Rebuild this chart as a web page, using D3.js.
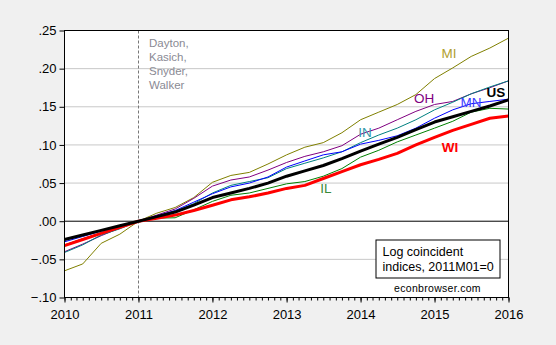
<!DOCTYPE html>
<html>
<head>
<meta charset="utf-8">
<script src="https://cdn.jsdelivr.net/npm/d3@7"></script>
<style>
  body { margin: 0; background: #f0f0f0; }
  svg text { font-family: "Liberation Sans", Arial, sans-serif; }
</style>
</head>
<body>
<div id="content"></div>
<script>
var dates = ['2010-01', '2010-04', '2010-07', '2010-10',
             '2011-01', '2011-04', '2011-07', '2011-10',
             '2012-01', '2012-04', '2012-07', '2012-10',
             '2013-01', '2013-04', '2013-07', '2013-10',
             '2014-01', '2014-04', '2014-07', '2014-10',
             '2015-01', '2015-04', '2015-07', '2015-10',
             '2016-01'];

var MI = [-0.065, -0.056, -0.029, -0.017, 0, 0.0105, 0.018, 0.031, 0.051, 0.060, 0.064, 0.075,
          0.087, 0.097, 0.103, 0.116, 0.133, 0.143, 0.153, 0.166, 0.187, 0.201, 0.216, 0.227, 0.240];
var OH = [-0.040, -0.030, -0.019, -0.009, 0, 0.008, 0.016, 0.030, 0.046, 0.054, 0.058, 0.067,
          0.077, 0.085, 0.091, 0.099, 0.114, 0.122, 0.133, 0.144, 0.153, 0.157, 0.167, 0.175, 0.184];
var IN = [-0.041, -0.031, -0.018, -0.010, 0, 0.006, 0.013, 0.023, 0.037, 0.047, 0.052, 0.057,
          0.069, 0.076, 0.083, 0.091, 0.103, 0.113, 0.122, 0.133, 0.146, 0.156, 0.167, 0.176, 0.184];
var MN = [-0.027, -0.020, -0.013, -0.007, 0, 0.007, 0.014, 0.025, 0.036, 0.045, 0.050, 0.058,
          0.071, 0.079, 0.087, 0.091, 0.101, 0.106, 0.112, 0.122, 0.135, 0.146, 0.154, 0.157, 0.160];
var IL = [-0.031, -0.023, -0.015, -0.008, 0, 0.004, 0.0045, 0.015, 0.026, 0.034, 0.037, 0.043,
          0.049, 0.052, 0.059, 0.069, 0.084, 0.093, 0.104, 0.113, 0.122, 0.131, 0.143, 0.148, 0.147];
var WI = [-0.032, -0.024, -0.016, -0.008, 0, 0.004, 0.008, 0.014, 0.021, 0.028, 0.032, 0.037,
          0.043, 0.047, 0.056, 0.065, 0.074, 0.081, 0.089, 0.100, 0.110, 0.119, 0.127, 0.135, 0.138];
var US = [-0.024, -0.018, -0.012, -0.006, 0, 0.006, 0.012, 0.021, 0.031, 0.037, 0.043, 0.050,
          0.059, 0.066, 0.073, 0.082, 0.092, 0.101, 0.110, 0.120, 0.130, 0.137, 0.144, 0.151, 0.159];

var yTicks = [-0.10, -0.05, 0, 0.05, 0.10, 0.15, 0.20, 0.25];
var yearTicks = ['2010', '2011', '2012', '2013', '2014', '2015', '2016'];
var governors = ['Dayton,', 'Kasich,', 'Snyder,', 'Walker'];
var noteLines = ['Log coincident', 'indices, 2011M01=0'];

var margin = { top: 30.5, right: 47.5, bottom: 47.5, left: 64.5 };
var width = 556 - margin.left - margin.right,
    height = 345 - margin.top - margin.bottom;

var parseMonth = d3.timeParse('%Y-%m'),
    parseYear = d3.timeParse('%Y');

var xScale = d3.scaleTime()
    .domain([parseYear('2010'), parseYear('2016')])
    .range([0, width]);

var yScale = d3.scaleLinear()
    .domain([-0.10, 0.25])
    .range([height, 0]);

// series drawn thin first, thick ones on top
var series = [
  { name: 'MI', values: MI, color: '#808000', width: 1, label: '#b0a030', lx: 449, ly: 58, bold: false },
  { name: 'OH', values: OH, color: '#800080', width: 1, label: '#800080', lx: 424, ly: 103, bold: false },
  { name: 'IN', values: IN, color: '#008080', width: 1, label: '#3399aa', lx: 365, ly: 137, bold: false },
  { name: 'MN', values: MN, color: '#0000ff', width: 1, label: '#3a3aff', lx: 471, ly: 107, bold: false },
  { name: 'IL', values: IL, color: '#008000', width: 1, label: '#3a8a3a', lx: 326, ly: 193, bold: false },
  { name: 'WI', values: WI, color: '#ff0000', width: 3, label: '#ff0000', lx: 450, ly: 152, bold: true },
  { name: 'US', values: US, color: '#000000', width: 3, label: '#000000', lx: 496, ly: 97, bold: true }
];

var fmtY = function(d){
    var s = d3.format('.2f')(d);
    return s.replace('0.', '.');
};

var svg = d3.select('#content').append('svg')
    .attr('width', 556)
    .attr('height', 345)
    .style('display', 'block')
    .style('background', '#f0f0f0');

var chart = svg.append('g')
    .attr('transform', 'translate(' + margin.left + ',' + margin.top + ')');

chart.append('rect')
    .attr('width', width)
    .attr('height', height)
    .style('fill', '#fff');

// gridlines
chart.selectAll('.grid').data(yTicks.filter(function(d){ return d !== 0; }))
    .enter().append('line')
    .attr('x1', 0).attr('x2', width)
    .attr('y1', function(d){ return yScale(d); })
    .attr('y2', function(d){ return yScale(d); })
    .style('stroke', '#c8c8c8');

chart.append('line')
    .attr('x1', 0).attr('x2', width)
    .attr('y1', yScale(0)).attr('y2', yScale(0))
    .style('stroke', '#000');

chart.append('line')
    .attr('x1', Math.round(xScale(parseYear('2011'))))
    .attr('x2', Math.round(xScale(parseYear('2011'))))
    .attr('y1', 0).attr('y2', height)
    .style('stroke', '#777')
    .style('stroke-dasharray', '3,2');

chart.selectAll('.gov').data(governors)
    .enter().append('text')
    .attr('x', 84.5)
    .attr('y', function(d, i){ return 16 + i * 14; })
    .style('font-size', '11.5px')
    .style('fill', '#8a8a94')
    .text(function(d){ return d; });

var line = d3.line()
    .x(function(d, i){ return xScale(parseMonth(dates[i])); })
    .y(function(d){ return yScale(d); });

chart.selectAll('.series').data(series)
    .enter().append('path')
    .attr('d', function(d){ return line(d.values); })
    .style('fill', 'none')
    .style('stroke', function(d){ return d.color; })
    .style('stroke-width', function(d){ return d.width; })
    .style('stroke-linejoin', 'round');

chart.selectAll('.lab').data(series)
    .enter().append('text')
    .attr('x', function(d){ return d.lx - margin.left; })
    .attr('y', function(d){ return d.ly - margin.top; })
    .attr('text-anchor', 'middle')
    .style('font-size', '13.5px')
    .style('font-weight', function(d){ return d.bold ? 'bold' : 'normal'; })
    .style('fill', function(d){ return d.label; })
    .text(function(d){ return d.name; });

// note box
var note = chart.append('g')
    .attr('transform', 'translate(' + (376 - margin.left) + ',' + (240 - margin.top) + ')');
note.append('rect')
    .attr('width', 124)
    .attr('height', 38)
    .style('fill', '#fff')
    .style('stroke', '#000');
note.selectAll('text').data(noteLines)
    .enter().append('text')
    .attr('x', 6.5)
    .attr('y', function(d, i){ return 16 + i * 14.5; })
    .style('font-size', '12.5px')
    .text(function(d){ return d; });

chart.append('text')
    .attr('x', 437.5 - margin.left)
    .attr('y', 292 - margin.top)
    .attr('text-anchor', 'middle')
    .style('font-size', '10.5px')
    .style('letter-spacing', '0.3px')
    .text('econbrowser.com');

// frame
chart.append('rect')
    .attr('width', width)
    .attr('height', height)
    .style('fill', 'none')
    .style('stroke', '#000');

// axes
var yAxis = d3.axisLeft(yScale)
    .tickValues(yTicks)
    .tickSize(5)
    .tickPadding(3)
    .tickFormat(fmtY);
var yGuide = chart.append('g');
yAxis(yGuide);
yGuide.select('.domain').remove();
yGuide.selectAll('line').style('stroke', '#000');
yGuide.selectAll('text')
    .style('font-size', '13px')
    .style('font-family', '"Liberation Sans", Arial, sans-serif')
    .style('fill', '#000');

var mAxis = d3.axisBottom(xScale)
    .ticks(d3.timeMonth.every(1))
    .tickSize(3)
    .tickFormat('');
var mGuide = chart.append('g')
    .attr('transform', 'translate(0,' + height + ')');
mAxis(mGuide);
mGuide.select('.domain').remove();
mGuide.selectAll('line').style('stroke', '#000');

var xAxis = d3.axisBottom(xScale)
    .tickValues(yearTicks.map(parseYear))
    .tickSize(5)
    .tickPadding(7)
    .tickFormat(d3.timeFormat('%Y'));
var xGuide = chart.append('g')
    .attr('transform', 'translate(0,' + height + ')');
xAxis(xGuide);
xGuide.select('.domain').remove();
xGuide.selectAll('line').style('stroke', '#000');
xGuide.selectAll('text')
    .style('font-size', '13px')
    .style('font-family', '"Liberation Sans", Arial, sans-serif')
    .style('fill', '#000');
</script>
</body>
</html>
